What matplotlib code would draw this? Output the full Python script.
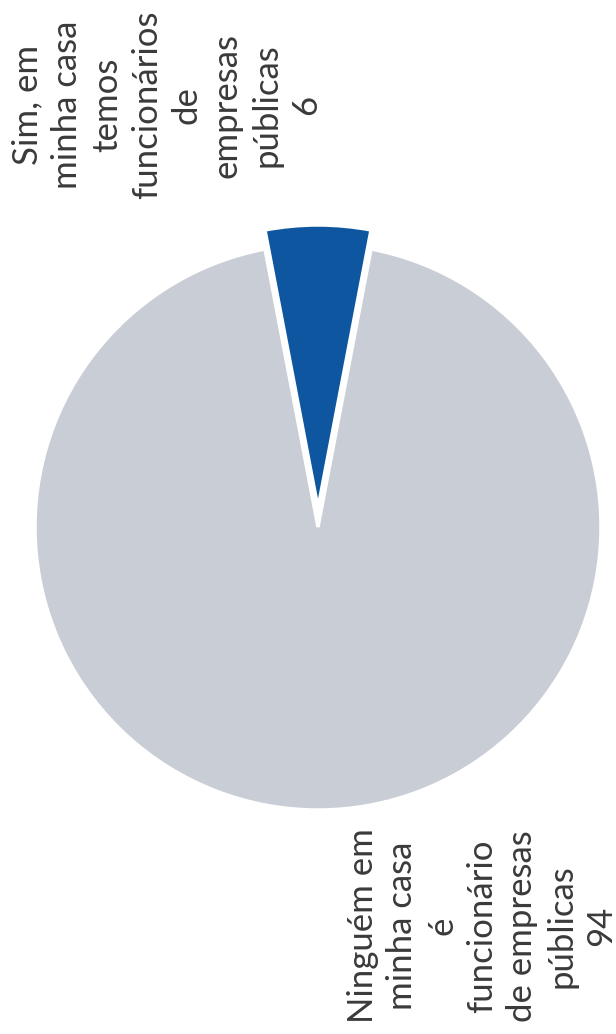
import matplotlib.pyplot as plt

# Data
categories = ['Sim, em\nminha casa\ntemos\nfuncionários\nde\nempresas\npúblicas',
              'Ninguém em\nminha casa\né\nfuncionário\nde empresas\npúblicas']
values = [6, 94]
colors = ['#0E57A0', '#C9CDD6']

fig = plt.figure(figsize=(6.16, 10.34), dpi=100)
ax = fig.add_axes([0, 0, 1, 1])

# pie drawn rotated, small slice pointing up and pulled out a bit
start = 90 - values[0] / sum(values) * 360 / 2
ax.pie(values, colors=colors, startangle=start, counterclock=True,
       center=(318, 507), radius=283, explode=[19, 0],
       wedgeprops=dict(edgecolor='white', linewidth=2.5), frame=True)
ax.set_xlim(0, 616)
ax.set_ylim(0, 1034)
ax.set_aspect('equal')
ax.axis('off')

# labels, rotated like the source
label_pos = [(167, 929), (482, 108)]
for lab, val, (x, y) in zip(categories, values, label_pos):
    ax.text(x, y, f'{lab}\n{val}', rotation=90, ha='center', va='center',
            multialignment='center', fontsize=25, family='Lato',
            color='#3a3a3a', linespacing=1.3)

fig.savefig('out.png', dpi=100)
